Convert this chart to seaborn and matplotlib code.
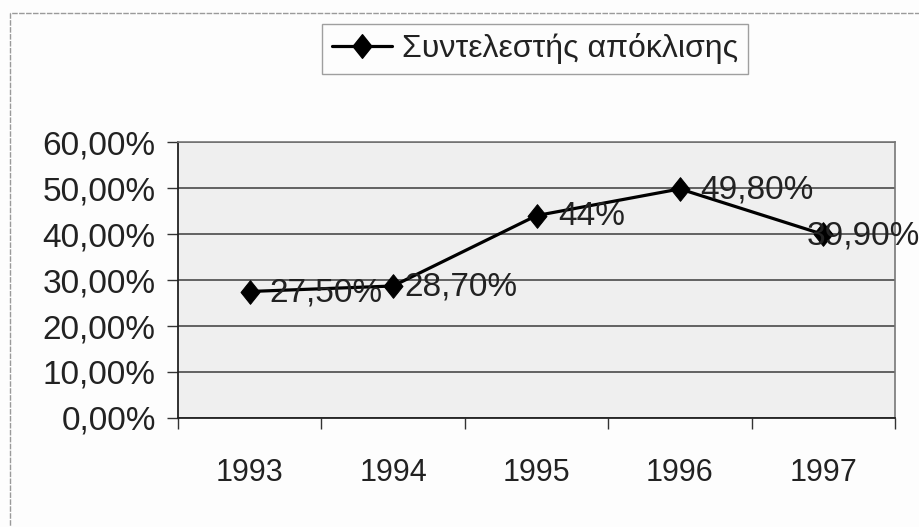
import matplotlib
matplotlib.use("Agg")
import matplotlib.pyplot as plt
from matplotlib.patches import Rectangle
from matplotlib.lines import Line2D
from matplotlib.path import Path
import seaborn as sns
import pandas as pd
import numpy as np

# ---- data ----
years = [1993, 1994, 1995, 1996, 1997]
values = [27.5, 28.7, 44.0, 49.8, 39.9]
value_labels = ["27,50%", "28,70%", "44%", "49,80%", "39,90%"]
y_ticks = [0, 10, 20, 30, 40, 50, 60]
y_tick_labels = ["0,00%", "10,00%", "20,00%", "30,00%", "40,00%", "50,00%", "60,00%"]
series_name = "Συντελεστής απόκλισης"

df = pd.DataFrame({"year": years, "value": values})

sns.set_theme(style="white")
REG = ["Liberation Sans", "DejaVu Sans"]
plt.rcParams["font.family"] = REG

diamond = Path([(0, 1), (0.8, 0), (0, -1), (-0.8, 0), (0, 1)],
               [Path.MOVETO, Path.LINETO, Path.LINETO, Path.LINETO, Path.CLOSEPOLY])

fig = plt.figure(figsize=(9.19, 5.27), dpi=100)
fig.patch.set_facecolor("#fdfdfd")

# scanned chart outer border
fig.patches.append(Rectangle((10 / 919, -0.1), 1.2, 1 - 13 / 527 + 0.1,
                             transform=fig.transFigure, fill=False,
                             edgecolor="#9a9a9a", linewidth=1.0, linestyle=(0, (4, 1))))

ax = fig.add_axes([178 / 919, 1 - 418 / 527, (895 - 178) / 919, (418 - 142) / 527])
ax.set_facecolor("#efefef")

sns.lineplot(data=df, x="year", y="value", ax=ax, color="black", linewidth=2.3,
             marker=diamond, markersize=17, markeredgecolor="black",
             markerfacecolor="black", legend=False)

ax.set_xlim(years[0] - 0.5, years[-1] + 0.5)
ax.set_ylim(y_ticks[0], y_ticks[-1])

# gridlines
ax.set_yticks(y_ticks)
ax.yaxis.grid(True, color="#4a4a4a", linewidth=1.2)
ax.xaxis.grid(False)
ax.set_axisbelow(True)

ax.set_yticklabels(y_tick_labels, fontsize=24, family=REG, color="#222222")
ax.set_xticks(years)
ax.set_xticklabels([str(y) for y in years], fontsize=22, family=REG, color="#222222")
ax.set_xticks([y + 0.5 for y in [years[0] - 1] + years], minor=True)
ax.tick_params(axis="x", which="major", length=0, pad=29)
ax.tick_params(axis="x", which="minor", length=8, width=1, color="#333333", bottom=True)
ax.tick_params(axis="y", which="major", length=8, width=1, color="#333333", left=True, pad=8)

ax.set_xlabel("")
ax.set_ylabel("")

for side in ["left", "bottom"]:
    ax.spines[side].set_color("#222222")
    ax.spines[side].set_linewidth(1.3)
for side in ["top", "right"]:
    ax.spines[side].set_color("#777777")
    ax.spines[side].set_linewidth(1.2)

# data labels
label_dx = [20, 11, 22, 20, -17]
for yr, v, lab, dx in zip(years, values, value_labels, label_dx):
    ax.annotate(lab, (yr, v), xytext=(dx * 0.72, -1), textcoords="offset points",
                ha="left", va="center", fontsize=24, family=REG, color="#222222",
                annotation_clip=False)

# legend
handle = Line2D([], [], color="black", linewidth=2.3, marker=diamond, markersize=17)
leg = fig.legend([handle], [series_name], loc="center",
                 bbox_to_anchor=(535 / 919, 1 - 49 / 527),
                 prop={"family": REG, "size": 23}, frameon=True, fancybox=False,
                 handlelength=1.9, handletextpad=0.3, borderpad=0.3)
leg.get_frame().set_edgecolor("#888888")
leg.get_frame().set_linewidth(1.0)
leg.get_frame().set_facecolor("#fdfdfd")
for t in leg.get_texts():
    t.set_color("#222222")

fig.savefig("out.png", dpi=100, facecolor=fig.get_facecolor())
